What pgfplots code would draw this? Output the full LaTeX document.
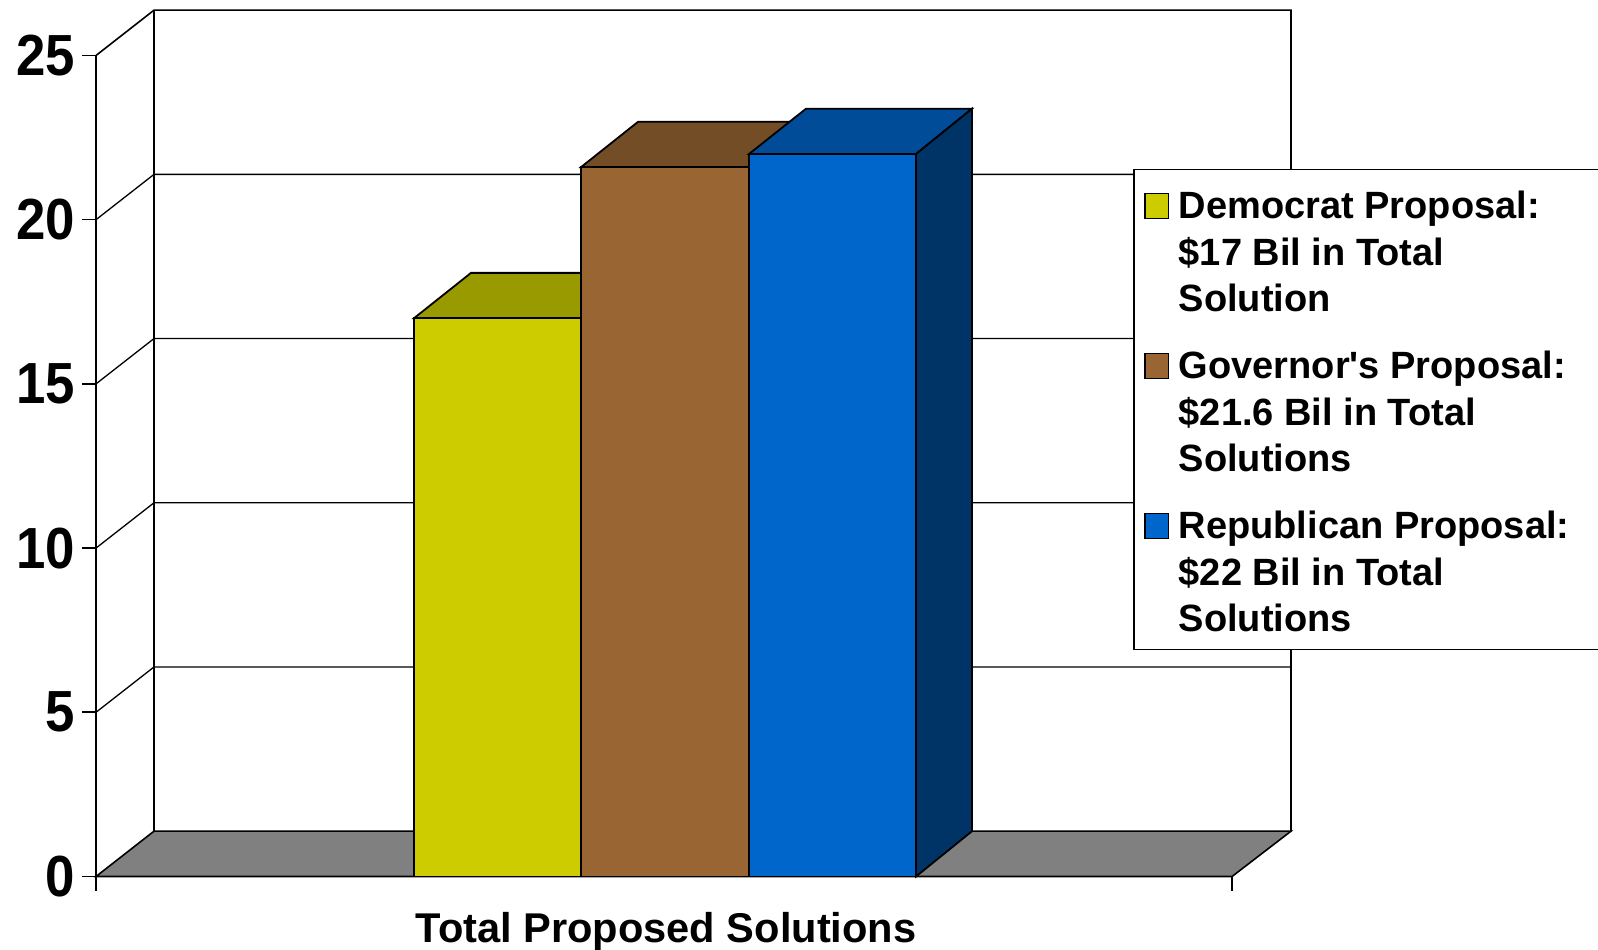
\documentclass[border=0pt]{standalone}
\usepackage{fontspec}
\setmainfont{Liberation Sans}
\newfontfamily\straightfont{Liberation Sans}
\newfontfamily\tickfont{Liberation Sans}[FakeStretch=0.91]
\usepackage{pgfplots}
\pgfplotsset{compat=1.18}
\definecolor{yfront}{HTML}{CCCC00}
\definecolor{ytop}{HTML}{999900}
\definecolor{bfront}{HTML}{996633}
\definecolor{btop}{HTML}{734D26}
\definecolor{cfront}{HTML}{0066CC}
\definecolor{ctop}{HTML}{004C99}
\definecolor{cside}{HTML}{003366}
\definecolor{floorc}{HTML}{808080}
\newcommand{\legtext}[3]{\parbox[t]{430pt}{\straightfont\bfseries\fontsize{38}{46.4}\selectfont\raggedright\rule{0pt}{27pt}#1\\#2\\#3}}
\begin{document}
\begin{tikzpicture}[x=1pt,y=1pt]
\path[use as bounding box] (0,0) rectangle (1598,950);
\begin{axis}[
  at={(96pt,73.5pt)}, anchor=south west,
  scale only axis, width=1136pt, height=821pt,
  xmin=96, xmax=1232, ymin=0, ymax=25,
  clip=false,
  axis x line*=bottom, axis y line*=left,
  axis line style={line width=1.6pt,black},
  xtick={96,1232}, xticklabels={},
  ytick={0,5,10,15,20,25},
  tick align=outside,
  major tick length=14pt,
  tick style={line width=1.6pt,black},
  /pgf/number format/assume math mode=true,
  yticklabel style={font=\tickfont\bfseries\fontsize{58}{58}\selectfont, inner sep=0pt},
  ylabel={},
  y tick label style={xshift=-7pt},
  xlabel={Total Proposed Solutions},
  xlabel style={font=\bfseries\fontsize{41.6}{46}\selectfont, at={(axis description cs:0.5018,0)}, anchor=base, yshift=-66pt, inner sep=0pt},
  legend image code/.code={\draw[#1] (0pt,0pt) rectangle (23.5pt,25pt);},
  legend style={
    at={(axis cs:1133,21.546)}, anchor=north west,
    draw=black, line width=1.5pt, fill=white,
    inner xsep=10.5pt, inner ysep=22pt,
    font=\bfseries,
    row sep=44pt,
    nodes={inner sep=0pt, anchor=base west, text height=27pt, text depth=89pt},
    /tikz/every odd column/.append style={column sep=9.5pt},
  },
]
% legend entries
\addlegendimage{draw=black,line width=1.5pt,fill=yfront}
\addlegendentry{\legtext{Democrat Proposal:}{\$17 Bil in Total}{Solution}}
\addlegendimage{draw=black,line width=1.5pt,fill=bfront}
\addlegendentry{\legtext{Governor's Proposal:}{\$21.6 Bil in Total}{Solutions}}
\addlegendimage{draw=black,line width=1.5pt,fill=cfront}
\addlegendentry{\legtext{Republican Proposal:}{\$22 Bil in Total}{Solutions}}

% back wall
\addplot[forget plot,draw=black,line width=1.6pt] coordinates {(96,25)(154,26.38)(1291,26.38)(1291,1.38)};
\addplot[forget plot,draw=black,line width=1.6pt] coordinates {(154,26.38)(154,1.38)};
% grid lines
\addplot[forget plot,draw=black,line width=1.3pt] coordinates {(96,5)(154,6.38)(1291,6.38)};
\addplot[forget plot,draw=black,line width=1.3pt] coordinates {(96,10)(154,11.38)(1291,11.38)};
\addplot[forget plot,draw=black,line width=1.3pt] coordinates {(96,15)(154,16.38)(1291,16.38)};
\addplot[forget plot,draw=black,line width=1.3pt] coordinates {(96,20)(154,21.38)(1291,21.38)};
% floor
\addplot[forget plot,draw=black,line width=1.6pt,fill=floorc] coordinates {(96,0)(154,1.38)(1291,1.38)(1232,0)} --cycle;
% Democrat bar, 17
\addplot[forget plot,draw=black,line width=1.8pt,fill=ytop] coordinates {(414,17)(471,18.38)(638,18.38)(581,17)} --cycle;
\addplot[forget plot,draw=black,line width=1.8pt,fill=yfront] coordinates {(414,0)(414,17)(581,17)(581,0)} --cycle;
% Governor bar, 21.6
\addplot[forget plot,draw=black,line width=1.8pt,fill=btop] coordinates {(581,21.6)(638,22.98)(806,22.98)(749,21.6)} --cycle;
\addplot[forget plot,draw=black,line width=1.8pt,fill=bfront] coordinates {(581,0)(581,21.6)(749,21.6)(749,0)} --cycle;
% Republican bar, 22
\addplot[forget plot,draw=black,line width=1.8pt,fill=ctop] coordinates {(749,22)(806,23.38)(972,23.38)(916,22)} --cycle;
\addplot[forget plot,draw=black,line width=1.8pt,fill=cside] coordinates {(916,0)(916,22)(972,23.38)(972,1.38)} --cycle;
\addplot[forget plot,draw=black,line width=1.8pt,fill=cfront] coordinates {(749,0)(749,22)(916,22)(916,0)} --cycle;
\end{axis}
\end{tikzpicture}
\end{document}
